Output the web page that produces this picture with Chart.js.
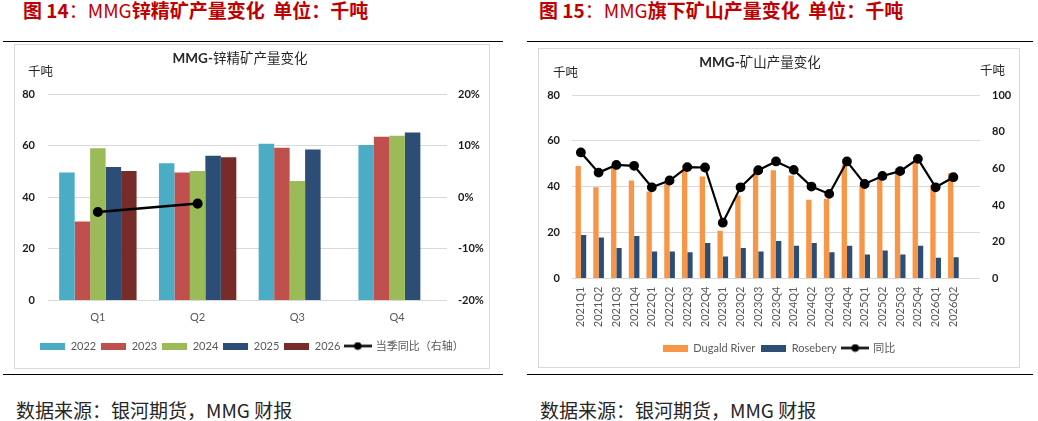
<!DOCTYPE html>
<html><head><meta charset="utf-8">
<script src="https://cdn.jsdelivr.net/npm/chart.js@4.4.1/dist/chart.umd.min.js"></script>
<style>
html,body{margin:0;padding:0;background:#fff;}
body{width:1038px;height:421px;position:relative;overflow:hidden;font-family:'Noto Sans CJK SC',sans-serif;}
.abs{position:absolute;white-space:nowrap;}
.fig{color:#C00000;font-size:19px;font-weight:bold;line-height:22px;top:-1px;}
.fig .lt{font-weight:normal;}
.rule{position:absolute;height:1px;background:#000;}
.box{position:absolute;border:1px solid #D9D9D9;box-sizing:border-box;}
.box canvas{display:block;}
.ctitle{font-size:13.5px;color:#262626;line-height:16px;text-align:center;width:200px;}
.ctitle b{font-family:Lato,'Noto Sans CJK SC',sans-serif;}
.unit{font-size:12.5px;color:#262626;line-height:14px;}
.src{font-size:19px;color:#262626;line-height:22px;}
</style></head><body>

<div class="abs fig" style="left:23px;">图 14<span class="lt">：MMG</span>锌精矿产量变化&nbsp; 单位：千吨</div>
<div class="rule" style="left:3px;top:41px;width:500px;"></div>
<div class="box" style="left:14px;top:44px;width:476px;height:325px;"><canvas id="c1" width="474" height="323"></canvas></div>
<div class="abs ctitle" style="left:140px;top:49px;"><b>MMG-</b>锌精矿产量变化</div>
<div class="abs unit" style="left:28px;top:64px;">千吨</div>
<div class="rule" style="left:3px;top:374px;width:500px;"></div>
<div class="abs src" style="left:16px;top:399px;">数据来源：银河期货，MMG 财报</div>

<div class="abs fig" style="left:539px;">图 15<span class="lt">：MMG</span>旗下矿山产量变化&nbsp; 单位：千吨</div>
<div class="rule" style="left:527px;top:41px;width:506px;"></div>
<div class="box" style="left:538px;top:48px;width:482px;height:320px;"><canvas id="c2" width="480" height="318"></canvas></div>
<div class="abs ctitle" style="left:660px;top:53px;"><b>MMG-</b>矿山产量变化</div>
<div class="abs unit" style="left:553px;top:65px;">千吨</div>
<div class="abs unit" style="left:980px;top:63px;">千吨</div>
<div class="rule" style="left:527px;top:374px;width:506px;"></div>
<div class="abs src" style="left:540px;top:399px;">数据来源：银河期货，MMG 财报</div>

<script>
// ---- Chart 1 data: MMG zinc concentrate output (kt) ----
const quarters = ['Q1', 'Q2', 'Q3', 'Q4'];
const yearLabels = ['2022', '2023', '2024', '2025', '2026'];
const zinc2022 = [49.6, 53.2, 60.7, 60.2];
const zinc2023 = [30.6, 49.6, 59.2, 63.4];
const zinc2024 = [59.0, 50.2, 46.3, 63.8];
const zinc2025 = [51.7, 56.1, 58.5, 65.1];
const zinc2026 = [50.2, 55.5, null, null];
const zincYoY = [-2.85, -1.23, null, null]; // %
const yoyLabel = '当季同比（右轴）';

// ---- Chart 2 data: MMG mines output (kt) ----
const mineQuarters = ['2021Q1','2021Q2','2021Q3','2021Q4','2022Q1','2022Q2','2022Q3','2022Q4',
  '2023Q1','2023Q2','2023Q3','2023Q4','2024Q1','2024Q2','2024Q3','2024Q4',
  '2025Q1','2025Q2','2025Q3','2025Q4','2026Q1','2026Q2',''];
const dugaldRiver = [49.0,39.8,48.4,42.7,37.9,41.5,49.3,44.5,20.8,36.2,47.4,47.2,44.9,34.3,34.8,49.6,40.8,43.6,48.1,50.7,40.8,45.9,null];
const rosebery = [19.0,17.9,13.3,18.5,11.8,11.8,11.4,15.5,9.6,13.3,11.8,16.3,14.3,15.5,11.4,14.3,10.5,12.2,10.5,14.3,9.0,9.3,null];
const mineTotal = [68.7,57.7,61.9,61.4,49.7,53.4,60.7,60.5,30.4,49.7,59.0,63.8,59.2,50.1,46.1,63.8,51.5,55.9,58.5,65.2,49.7,55.2,null];
const mineLabels = ['Dugald River', 'Rosebery', '同比'];

const FONT = "Lato, 'Noto Sans CJK SC', sans-serif";
Chart.defaults.font.family = FONT;

const C1 = ['#4BACC6', '#C0504D', '#9BBB59', '#2C4D75', '#772C2A'];
const ORANGE = '#F79646', NAVY = '#2C4D75';

function barIcon(color) {
  const c = document.createElement('canvas'); c.width = 25; c.height = 7;
  const x = c.getContext('2d'); x.fillStyle = color; x.fillRect(0, 0, 25, 7); return c;
}
function lineIcon() {
  const c = document.createElement('canvas'); c.width = 28; c.height = 9;
  const x = c.getContext('2d'); x.strokeStyle = '#000'; x.lineWidth = 2.5;
  x.beginPath(); x.moveTo(0, 4.5); x.lineTo(28, 4.5); x.stroke();
  x.fillStyle = '#000'; x.beginPath(); x.arc(14, 4.5, 3.8, 0, Math.PI * 2); x.fill(); return c;
}
function legendOpts(icons, pad) {
  return {
    position: 'bottom',
    labels: {
      usePointStyle: true, pointStyleWidth: 25, boxHeight: 7, padding: pad,
      color: '#595959', font: { size: 11, family: FONT },
      generateLabels: (chart) => chart.data.datasets.map((ds, i) => ({
        text: ds.label, pointStyle: icons[i], datasetIndex: i, hidden: false,
        fontColor: '#595959', lineWidth: 0, fillStyle: 'rgba(0,0,0,0)', strokeStyle: 'rgba(0,0,0,0)'
      }))
    }
  };
}
const tickFontBold = { size: 11, weight: 'bold', family: FONT };

// ---- Chart 1 ----
const zincSeries = [zinc2022, zinc2023, zinc2024, zinc2025, zinc2026];
const ds1 = zincSeries.map((arr, i) => ({
  type: 'bar', label: yearLabels[i], data: arr, backgroundColor: C1[i],
  categoryPercentage: 0.776, barPercentage: 1, yAxisID: 'y', order: 1
}));
ds1.push({
  type: 'line', label: yoyLabel, data: zincYoY, borderColor: '#000', borderWidth: 2.5,
  pointRadius: 3.8, pointBackgroundColor: '#000', pointBorderColor: '#000', yAxisID: 'y1', order: 0
});
new Chart(document.getElementById('c1'), {
  data: { labels: quarters, datasets: ds1 },
  options: {
    responsive: false, animation: false, events: [],
    layout: { padding: { top: 49, bottom: 6.5, left: 0, right: 0 } },
    plugins: { legend: legendOpts([...C1.map(barIcon), lineIcon()], 5), tooltip: { enabled: false }, title: { display: false } },
    scales: {
      x: { grid: { display: false, drawTicks: false }, border: { display: false },
           ticks: { color: '#595959', font: { size: 11, family: FONT }, padding: 10 },
           afterFit: s => { s.height = 35; } },
      y: { position: 'left', min: 0, max: 80,
           ticks: { stepSize: 20, padding: 13, color: '#1a1a1a', font: tickFontBold },
           grid: { color: '#D9D9D9', drawTicks: false, lineWidth: 1 }, border: { display: false },
           afterFit: s => { s.width = 33; } },
      y1: { position: 'right', min: -20, max: 20,
            ticks: { stepSize: 10, padding: 11, color: '#1a1a1a', font: tickFontBold, callback: v => v + '%' },
            grid: { display: false, drawTicks: false }, border: { display: false },
            afterFit: s => { s.width = 42; } }
    }
  }
});

// ---- Chart 2 ----
new Chart(document.getElementById('c2'), {
  data: {
    labels: mineQuarters,
    datasets: [
      { type: 'bar', label: mineLabels[0], data: dugaldRiver, backgroundColor: ORANGE,
        categoryPercentage: 0.6, barPercentage: 1, yAxisID: 'y', order: 1 },
      { type: 'bar', label: mineLabels[1], data: rosebery, backgroundColor: NAVY,
        categoryPercentage: 0.6, barPercentage: 1, yAxisID: 'y', order: 1 },
      { type: 'line', label: mineLabels[2], data: mineTotal, borderColor: '#000', borderWidth: 2.2,
        pointRadius: 3.8, pointBackgroundColor: '#000', pointBorderColor: '#000', yAxisID: 'y1', order: 0 }
    ]
  },
  options: {
    responsive: false, animation: false, events: [],
    layout: { padding: { top: 46, bottom: 3.5, left: 0, right: 0 } },
    plugins: { legend: legendOpts([barIcon(ORANGE), barIcon(NAVY), lineIcon()], 6), tooltip: { enabled: false }, title: { display: false } },
    scales: {
      x: { grid: { display: false, drawTicks: false }, border: { display: false },
           ticks: { color: '#595959', font: { size: 11, family: FONT }, padding: 8, autoSkip: false, minRotation: 90, maxRotation: 90 },
           afterFit: s => { s.height = 58; } },
      y: { position: 'left', min: 0, max: 80,
           ticks: { stepSize: 20, padding: 12, color: '#1a1a1a', font: tickFontBold },
           grid: { color: '#D9D9D9', drawTicks: false, lineWidth: 1 }, border: { display: false },
           afterFit: s => { s.width = 33; } },
      y1: { position: 'right', min: 0, max: 100,
            ticks: { stepSize: 20, padding: 12, color: '#1a1a1a', font: tickFontBold },
            grid: { display: false, drawTicks: false }, border: { display: false },
            afterFit: s => { s.width = 39; } }
    }
  }
});
</script>
</body></html>
